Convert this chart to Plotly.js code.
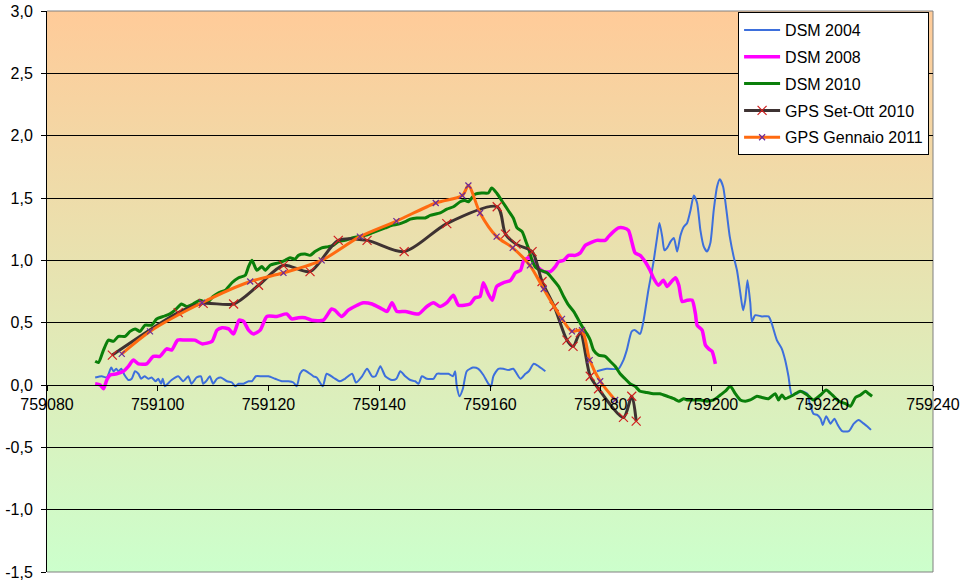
<!DOCTYPE html>
<html>
<head>
<meta charset="utf-8">
<script src="https://cdn.plot.ly/plotly-3.0.1.min.js"></script>
<style>
  html, body { margin: 0; padding: 0; background: #ffffff; }
  #chart { width: 965px; height: 585px; }
</style>
</head>
<body>
<div id="chart"></div>
<script>
// ---- Data ----
const seriesNames = ["DSM 2004", "DSM 2008", "DSM 2010", "GPS Set-Ott 2010", "GPS Gennaio 2011"];

const dsm2004X = [759088.7,759089.9,759090.8,759091.6,759092.0,759092.5,759092.9,759093.4,759094.0,759094.7,759095.3,759095.9,759096.5,759097.0,759097.6,759098.3,759098.9,759099.6,759100.1,759100.6,759100.9,759101.3,759101.8,759102.5,759103.7,759104.6,759105.5,759106.1,759107.0,759107.8,759108.2,759108.9,759109.4,759110.0,759110.7,759111.4,759112.5,759113.4,759114.0,759114.6,759115.5,759116.4,759117.0,759117.7,759118.8,759120.0,759121.2,759122.4,759123.6,759124.5,759125.1,759125.7,759126.3,759127.2,759128.1,759128.7,759129.8,759130.5,759131.7,759132.9,759133.8,759135.1,759135.8,759136.9,759137.8,759138.7,759139.3,759140.2,759141.1,759142.3,759143.1,759143.8,759144.7,759145.6,759146.5,759147.1,759147.7,759148.6,759149.8,759150.4,759151.3,759152.5,759153.3,759153.7,759154.0,759154.5,759155.1,759155.8,759156.9,759157.9,759158.8,759159.7,759160.2,759160.6,759161.5,759162.4,759163.3,759164.2,759165.5,759166.4,759167.0,759167.9,759168.8,759169.4,759170.0,
  759175.0,
  759179.3,759181.1,759183.2,759184.1,759184.7,759185.6,759186.2,759187.1,759187.7,759188.6,759189.5,759190.2,759190.6,759191.1,759191.5,759192.0,759192.6,759193.2,759193.8,759194.4,759195.0,759195.6,759196.2,759196.8,759197.4,759198.0,759198.6,759199.2,759199.8,759200.4,759201.0,759201.5,759202.1,759202.7,759203.3,759204.0,759204.6,759205.2,759205.7,759206.1,759206.5,759207.0,759207.3,759207.9,759209.1,759210.3,759210.9,759211.8,759212.7,759213.3,759213.9,759214.5,759215.4,759216.3,759217.3,759217.8,759218.4,759219.1,759219.7,759220.1,759220.7,759221.5,759222.2,759222.8,759223.6,759224.8,759225.7,759226.6,759227.5,759228.1,759228.8];
const dsm2004Y = [0.06,0.07,0.06,0.14,0.11,0.13,0.11,0.13,0.08,0.04,0.05,0.11,0.09,0.05,0.07,0.05,0.06,0.03,0.05,0.01,0.05,-0.01,0.01,0.04,0.07,0.03,0.07,0.01,0.06,0.07,0.01,0.04,0.07,0.01,0.05,0.06,0.03,0.02,-0.01,0.01,0.01,0.03,0.03,0.07,0.07,0.07,0.05,0.03,0.03,0.02,-0.01,0.09,0.12,0.10,0.07,0.06,-0.01,0.09,0.06,0.03,0.05,0.09,0.02,0.07,0.13,0.07,0.07,0.15,0.07,0.04,0.05,0.11,0.07,0.04,0.03,0.01,0.07,0.05,0.05,0.09,0.09,0.09,0.07,0.11,-0.01,-0.09,-0.03,0.11,0.14,0.13,0.08,0.01,-0.01,0.07,0.13,0.13,0.12,0.13,0.05,0.09,0.11,0.17,0.15,0.13,0.11,
  null,
  0.11,0.13,0.13,0.20,0.28,0.43,0.44,0.41,0.51,0.76,0.98,1.19,1.30,1.19,1.08,1.10,1.15,1.18,1.07,1.20,1.27,1.30,1.40,1.52,1.46,1.24,1.11,1.07,1.14,1.40,1.59,1.65,1.59,1.40,1.19,1.03,0.92,0.74,0.60,0.68,0.84,0.66,0.51,0.56,0.55,0.55,0.49,0.36,0.29,0.20,0.07,-0.08,-0.07,-0.05,-0.07,-0.16,-0.23,-0.24,-0.27,-0.32,-0.25,-0.31,-0.27,-0.32,-0.37,-0.37,-0.31,-0.28,-0.31,-0.33,-0.36];

const dsm2008X = [759088.7,759089.6,759090.2,759090.8,759091.4,759092.6,759093.8,759094.7,759095.6,759096.5,759098.0,759099.2,759100.4,759101.6,759102.5,759103.6,759104.9,759106.7,759108.0,759109.8,759110.7,759111.6,759112.8,759113.7,759114.7,759115.5,759116.4,759117.3,759118.5,759119.7,759121.5,759123.3,759124.2,759125.4,759126.6,759127.8,759129.9,759131.4,759132.0,759133.2,759134.4,759136.0,759137.1,759138.7,759140.5,759141.4,759142.3,759143.2,759144.7,759147.1,759148.6,759149.8,759151.0,759152.2,759153.4,759154.3,759156.4,759157.3,759158.2,759158.8,759159.7,759160.4,759161.2,759162.4,759163.7,759164.6,759165.5,759166.1,759167.0,759167.9,759168.5,759169.7,759170.9,759171.8,759172.4,759173.3,759174.2,759175.4,759176.3,759177.2,759178.1,759179.3,759180.8,759181.4,759182.3,759183.2,759184.1,759185.0,759185.6,759186.2,759187.1,759188.0,759188.9,759189.5,759190.4,759191.3,759192.0,759192.6,759193.5,759194.1,759194.7,759195.6,759196.5,759197.1,759197.4,759198.3,759198.9,759199.5,759200.1,759200.7];
const dsm2008Y = [0.01,0.00,-0.03,0.04,0.08,0.09,0.11,0.15,0.20,0.17,0.17,0.23,0.23,0.29,0.28,0.36,0.36,0.36,0.33,0.35,0.44,0.46,0.45,0.41,0.52,0.51,0.44,0.41,0.44,0.55,0.55,0.57,0.53,0.54,0.54,0.52,0.52,0.61,0.60,0.55,0.60,0.64,0.66,0.65,0.61,0.59,0.66,0.59,0.59,0.57,0.63,0.66,0.63,0.66,0.72,0.64,0.65,0.70,0.71,0.82,0.73,0.68,0.79,0.82,0.84,0.90,0.92,1.00,1.02,0.99,0.95,0.91,0.91,0.95,0.99,1.00,1.04,1.04,1.06,1.12,1.14,1.16,1.16,1.19,1.23,1.26,1.26,1.24,1.15,1.06,1.04,0.99,0.92,0.86,0.80,0.84,0.79,0.82,0.86,0.80,0.67,0.68,0.68,0.57,0.48,0.44,0.32,0.29,0.27,0.17];

const dsm2010X = [759088.7,759089.3,759090.2,759091.1,759092.0,759092.9,759094.1,759095.0,759095.9,759096.8,759097.7,759098.9,759099.8,759101.0,759102.2,759103.1,759104.3,759105.2,759106.4,759107.6,759108.9,759110.0,759111.0,759112.2,759113.4,759114.6,759115.8,759116.4,759117.0,759117.9,759118.8,759119.4,759120.3,759121.8,759123.0,759123.9,759124.8,759125.4,759126.6,759127.5,759128.4,759129.6,759130.8,759131.7,759132.6,759133.8,759135.1,759136.2,759137.5,759138.7,759139.9,759141.1,759142.3,759143.5,759144.7,759145.6,759146.8,759148.3,759149.2,759151.0,759152.2,759153.4,759154.6,759155.5,759156.1,759157.3,759158.5,759159.7,759160.3,759161.2,759162.4,759163.3,759164.2,759164.9,759165.8,759166.5,759167.0,759167.6,759168.3,759169.1,759170.3,759171.5,759172.4,759173.3,759174.2,759175.1,759176.0,759176.9,759177.5,759178.1,759178.7,759179.6,759180.8,759181.7,759182.6,759183.5,759184.4,759185.3,759186.2,759187.1,759188.3,759189.5,759190.7,759192.0,759193.2,759194.1,759195.0,759195.6,759196.8,759198.0,759199.2,759200.4,759201.6,759202.5,759203.4,759204.3,759205.2,759206.1,759207.0,759208.2,759209.1,759210.3,759211.5,759212.1,759212.7,759213.3,759213.9,759214.8,759216.0,759217.3,759218.4,759219.7,759220.7,759221.8,759223.0,759224.2,759225.1,759226.0,759226.9,759227.8,759228.4,759229.0];
const dsm2010Y = [0.19,0.18,0.28,0.36,0.35,0.39,0.39,0.43,0.45,0.43,0.48,0.48,0.53,0.55,0.57,0.60,0.65,0.63,0.65,0.68,0.66,0.71,0.74,0.76,0.82,0.86,0.88,0.95,1.00,0.92,0.95,0.92,0.96,0.98,1.00,1.02,1.01,1.04,1.05,1.04,1.07,1.10,1.11,1.12,1.15,1.16,1.18,1.19,1.20,1.22,1.24,1.26,1.28,1.29,1.31,1.33,1.34,1.34,1.36,1.38,1.41,1.43,1.47,1.48,1.47,1.53,1.54,1.54,1.58,1.54,1.46,1.40,1.34,1.26,1.23,1.15,1.09,1.00,0.94,0.92,0.90,0.84,0.79,0.71,0.64,0.59,0.52,0.45,0.41,0.36,0.28,0.24,0.23,0.19,0.15,0.09,0.05,0.01,-0.01,-0.05,-0.06,-0.07,-0.07,-0.09,-0.11,-0.13,-0.11,-0.12,-0.12,-0.12,-0.13,-0.12,-0.08,-0.05,-0.01,-0.07,-0.12,-0.13,-0.12,-0.09,-0.10,-0.11,-0.07,-0.12,-0.08,-0.11,-0.10,-0.08,-0.05,-0.08,-0.12,-0.08,-0.04,-0.08,-0.13,-0.15,-0.17,-0.10,-0.08,-0.05,-0.07,-0.09];

const gpsSetOttX = [759091.8,759103.7,759108.2,759113.7,759118.2,759122.7,759127.5,759132.6,759137.8,759144.5,759152.2,759161.3,759162.8,759164.7,759167.6,759169.4,759171.6,759173.9,759175.0,759176.3,759178.1,759179.6,759184.1,759185.6,759186.4];
const gpsSetOttY = [0.24,0.58,0.655,0.65,0.80,0.96,0.91,1.16,1.16,1.07,1.295,1.43,1.21,1.13,1.07,0.83,0.63,0.36,0.31,0.42,0.07,-0.03,-0.26,-0.09,-0.29];

const gpsGennaioX = [759093.5,759098.6,759108.0,759116.7,759122.7,759129.6,759136.5,759143.1,759150.2,759155.0,759156.1,759158.2,759161.2,759164.1,759167.2,759169.7,759173.0,759174.8,759176.6,759178.0,759179.9,759182.6];
const gpsGennaioY = [0.25,0.43,0.66,0.83,0.90,1.00,1.19,1.315,1.46,1.52,1.60,1.38,1.19,1.10,0.96,0.77,0.53,0.43,0.44,0.20,0.03,-0.12];

const xTickVals = [759080,759100,759120,759140,759160,759180,759200,759220,759240];
const xTickText = ["759080","759100","759120","759140","759160","759180","759200","759220","759240"];
const yTickVals = [-1.5,-1.0,-0.5,0.0,0.5,1.0,1.5,2.0,2.5,3.0];
const yTickText = ["-1,5","-1,0","-0,5","0,0","0,5","1,0","1,5","2,0","2,5","3,0"];

// ---- Styling ----
const FONT = "Liberation Sans, Arial, sans-serif";
const FS = 16;
const colors = ["#3d6fdc", "#ff00ff", "#0a7f0a", "#3e3232", "#ff6a10"];

const traces = [
  { x: dsm2004X, y: dsm2004Y, name: seriesNames[0], mode: "lines", legendgroup: "g0",
    line: { color: colors[0], width: 2, shape: "spline", smoothing: 0.6 }, connectgaps: false },
  { x: dsm2008X, y: dsm2008Y, name: seriesNames[1], mode: "lines", legendgroup: "g1",
    line: { color: colors[1], width: 3.5, shape: "spline", smoothing: 0.6 } },
  { x: dsm2010X, y: dsm2010Y, name: seriesNames[2], mode: "lines", legendgroup: "g2",
    line: { color: colors[2], width: 3, shape: "spline", smoothing: 0.6 } },
  { x: gpsSetOttX, y: gpsSetOttY, name: seriesNames[3], mode: "lines+markers", legendgroup: "g3",
    line: { color: colors[3], width: 3, shape: "spline", smoothing: 0.8 },
    marker: { symbol: "x-thin", size: 9, color: "#d02020", line: { color: "#d02020", width: 1.2 } } },
  { x: gpsGennaioX, y: gpsGennaioY, name: seriesNames[4], mode: "lines+markers", legendgroup: "g4",
    line: { color: colors[4], width: 3, shape: "spline", smoothing: 0.8 },
    marker: { symbol: "x-thin", size: 6, color: "#6a2a9a", line: { color: "#6a2a9a", width: 1.2 } } }
];

const gradSvg = '<svg xmlns="http://www.w3.org/2000/svg" width="100" height="100" preserveAspectRatio="none">' +
  '<defs><linearGradient id="g" x1="0" y1="0" x2="0" y2="1">' +
  '<stop offset="0" stop-color="#ffcb99"/><stop offset="1" stop-color="#ccffcc"/>' +
  '</linearGradient></defs><rect width="100" height="100" fill="url(#g)"/></svg>';
const gradUri = "data:image/svg+xml;charset=utf-8," + encodeURIComponent(gradSvg);

const layout = {
  width: 965, height: 585,
  margin: { l: 47, r: 32, t: 11, b: 13, pad: 0 },
  paper_bgcolor: "#ffffff",
  plot_bgcolor: "rgba(0,0,0,0)",
  font: { family: FONT, size: FS, color: "#000000" },
  showlegend: true,
  legend: {
    x: 0.78, y: 0.998, xanchor: "left", yanchor: "top",
    bgcolor: "#ffffff", bordercolor: "#000000", borderwidth: 1,
    tracegroupgap: 3, itemwidth: 36,
    font: { family: FONT, size: FS, color: "#000000" }
  },
  xaxis: {
    range: [759080, 759240],
    tickmode: "array", tickvals: xTickVals, ticktext: xTickText,
    anchor: "free", position: 1/3,
    showline: true, linecolor: "#000000", linewidth: 1,
    ticks: "outside", ticklen: 5, tickcolor: "#000000",
    showgrid: false, zeroline: false,
    tickfont: { family: FONT, size: FS, color: "#000000" }
  },
  yaxis: {
    range: [-1.5, 3.0],
    tickmode: "array", tickvals: yTickVals, ticktext: yTickText,
    showline: true, linecolor: "#000000", linewidth: 1,
    ticks: "outside", ticklen: 5, tickcolor: "#000000",
    ticklabelstandoff: 5,
    showgrid: true, gridcolor: "#000000", gridwidth: 1,
    zeroline: false,
    tickfont: { family: FONT, size: FS, color: "#000000" }
  },
  images: [{
    source: gradUri, xref: "paper", yref: "paper",
    x: 0, y: 1, sizex: 1, sizey: 1, xanchor: "left", yanchor: "top",
    sizing: "stretch", layer: "below"
  }],
  shapes: [
    { type: "line", xref: "paper", yref: "paper", x0: 0, x1: 1, y0: 1, y1: 1,
      line: { color: "#808080", width: 1 }, layer: "below" },
    { type: "line", xref: "paper", yref: "paper", x0: 1, x1: 1, y0: 0, y1: 1,
      line: { color: "#808080", width: 1 }, layer: "below" },
    { type: "line", xref: "paper", yref: "paper", x0: 0, x1: 1, y0: 0, y1: 0,
      line: { color: "#808080", width: 1 }, layer: "below" }
  ]
};

Plotly.newPlot("chart", traces, layout, { staticPlot: true, displayModeBar: false });
</script>
</body>
</html>
